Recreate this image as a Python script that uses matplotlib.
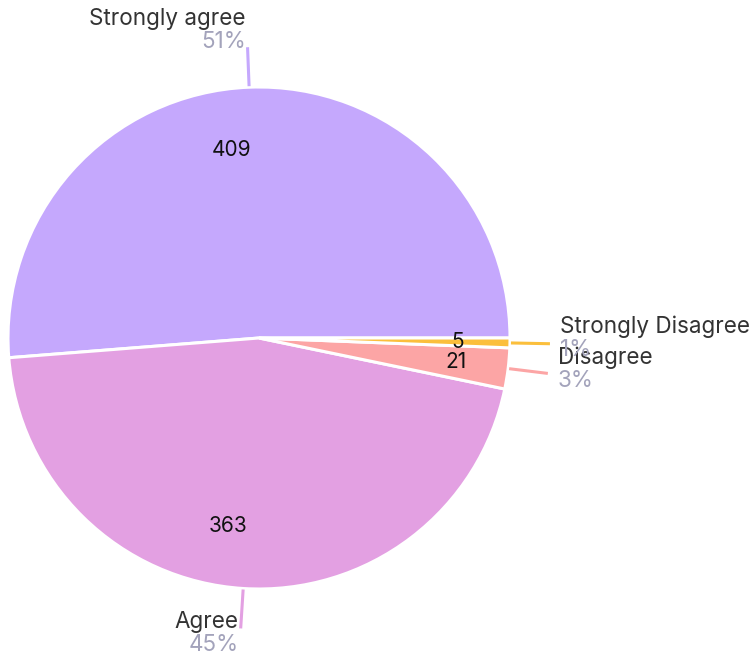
import numpy as np
import matplotlib
matplotlib.use("Agg")
import matplotlib.pyplot as plt

categories = ["Strongly agree", "Agree", "Disagree", "Strongly Disagree"]
values = [409, 363, 21, 5]
colors = ["#c5a8fd", "#e3a0e2", "#fca5a5", "#fbbf3c"]

plt.rcParams['font.family'] = ['Inter', 'DejaVu Sans']

W, H = 754, 658
fig = plt.figure(figsize=(W / 100, H / 100), dpi=100)
ax = fig.add_axes([0, 0, 1, 1])

cx, cy, R = 259, H - 338, 251
wedges, _ = ax.pie(values, colors=colors, startangle=0, counterclock=True,
                   center=(cx, cy), radius=R,
                   wedgeprops=dict(edgecolor="white", linewidth=2.2))
ax.set_xlim(0, W)
ax.set_ylim(0, H)
ax.set_aspect("equal")
ax.axis("off")

total = sum(values)
for w, cat, v, col in zip(wedges, categories, values, colors):
    mid = np.deg2rad((w.theta1 + w.theta2) / 2)
    c, s = np.cos(mid), np.sin(mid)
    # value label
    rv = 0.75 * R if v > 100 else 0.79 * R
    ax.text(cx + rv * c, cy + rv * s, str(v), ha="right" if c < 0 else "center",
            va="center", fontsize=15, color="#111111")
    # leader line
    x0, y0 = cx + (R + 1) * c, cy + (R + 1) * s
    x1, y1 = cx + (R + 40) * c, cy + (R + 40) * s
    ax.plot([x0, x1], [y0, y1], color=col, lw=2.2, solid_capstyle="butt")
    # outside labels
    if c > 0:
        tx, ha = x1 + 10, "left"
    else:
        tx, ha = x1 - 2, "right"
    bc = y1 + 6 + 11 * s
    ax.text(tx, bc + 11, cat, ha=ha, va="center", fontsize=16.2, color="#333333")
    ax.text(tx, bc - 12, f"{round(v / total * 100)}%", ha=ha, va="center",
            fontsize=16.2, color="#a3a3bb")

fig.savefig("out.png", dpi=100)
